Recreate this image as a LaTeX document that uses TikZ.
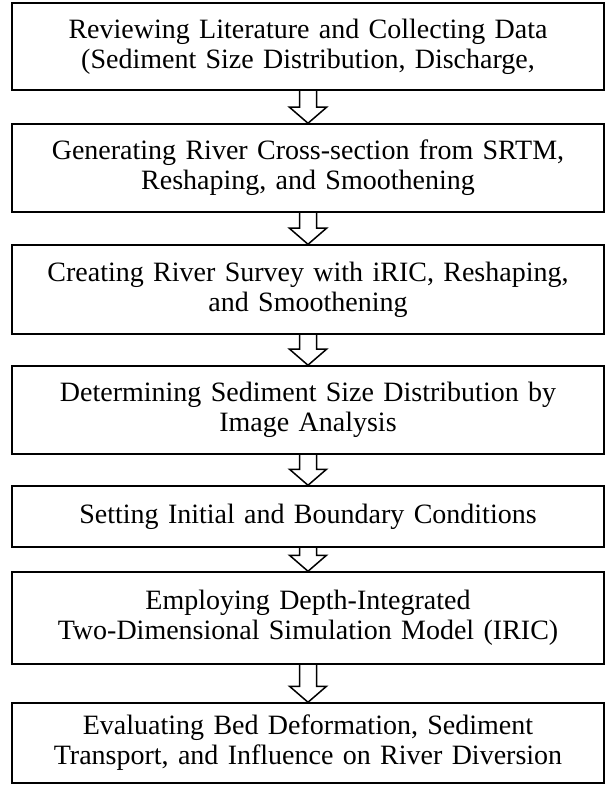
\documentclass[tikz,border=0pt]{standalone}
\usepackage{fontspec}
\setmainfont{Liberation Serif}
\usetikzlibrary{positioning, calc}
\tikzstyle{stage} =
[rectangle, minimum width = 296pt, text width = 292pt, inner sep = 0pt,
text centered, draw=black, line width = 0.75pt,
font = \fontsize{14}{15}\selectfont]
\tikzstyle{flowarr} = [draw, line width = 0.75pt, line join = miter]
\newcommand{\flowarrow}[2]{%
  \path [flowarr] ($(#1.south)+(-4.25pt,0)$) |- ($(#2.north)+(-9.25pt,8pt)$)
   -- (#2.north) -- ($(#2.north)+(9.25pt,8pt)$) -| ($(#1.south)+(4.25pt,0)$);}

\begin{document}
\begin{tikzpicture}[node distance = 60.75pt, auto]
  \useasboundingbox (0,0) rectangle (302.5pt,-392.5pt);
  % stage nodes
  \node [stage, minimum height = 43.5pt] (review) at (154pt,-23.25pt)
   {Reviewing Literature and Collecting Data\\
    (Sediment Size Distribution, Discharge,};
  \node [stage, minimum height = 44pt, below of=review] (section)
   {Generating River Cross-section from SRTM,\\ Reshaping, and Smoothening};
  \node [stage, minimum height = 44.5pt, below of=section] (survey)
   {Creating River Survey with iRIC, Reshaping,\\ and Smoothening};
  \node [stage, minimum height = 44pt, below of=survey,
   node distance = 60.25pt] (grain)
   {Determining Sediment Size Distribution by\\ Image Analysis};
  \node [stage, minimum height = 30.5pt, below of=grain,
   node distance = 53.25pt] (bc)
   {Setting Initial and Boundary Conditions};
  \node [stage, minimum height = 46pt, below of=bc,
   node distance = 50.75pt] (model)
   {Employing Depth-Integrated\\ Two-Dimensional Simulation Model (IRIC)};
  \node [stage, minimum height = 40pt, below of=model,
   node distance = 62.5pt] (result)
   {Evaluating Bed Deformation, Sediment\\
    Transport, and Influence on River Diversion};
  % block arrows
  \flowarrow{review}{section}
  \flowarrow{section}{survey}
  \flowarrow{survey}{grain}
  \flowarrow{grain}{bc}
  \flowarrow{bc}{model}
  \flowarrow{model}{result}
\end{tikzpicture}
\end{document}
